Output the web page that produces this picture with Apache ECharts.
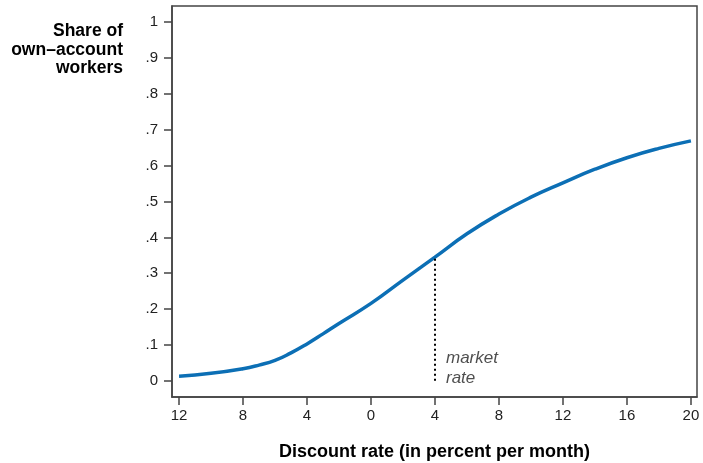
<!DOCTYPE html>
<html>
<head>
<meta charset="utf-8">
<script src="https://cdn.jsdelivr.net/npm/echarts@6/dist/echarts.min.js"></script>
<style>
  html, body { margin: 0; padding: 0; background: #fff; }
  #chart { width: 703px; height: 463px; }
</style>
</head>
<body>
<div id="chart"></div>
<script>
// discount rate (percent per month), negative side shown as absolute values
var rates  = [-12, -10, -8, -7, -6, -5, -4, -3, -2, 0, 2, 4, 6, 8, 10, 12, 14, 16, 18, 20];
var shares = [0.013, 0.021, 0.034, 0.044, 0.057, 0.078, 0.103, 0.131, 0.160, 0.216, 0.281, 0.345, 0.410, 0.465, 0.512, 0.552, 0.590, 0.622, 0.648, 0.669];
var xTicks = [-12, -8, -4, 0, 4, 8, 12, 16, 20];
var yTicks = [0, 0.1, 0.2, 0.3, 0.4, 0.5, 0.6, 0.7, 0.8, 0.9, 1];
var marketRate = 4;

var font = "Liberation Sans, Arial, Helvetica, sans-serif";
var ink = '#222';
var axisColor = '#444';

var data = rates.map(function (r, i) { return [r, shares[i]]; });
var marketShare = shares[rates.indexOf(marketRate)];

var chart = echarts.init(document.getElementById('chart'));
chart.setOption({
    animation: false,
    grid: {
        left: 172, right: 6, top: 6, bottom: 66,
        outerBoundsMode: 'none',
        show: true, borderColor: axisColor, borderWidth: 1.5
    },
    graphic: [{
        type: 'text',
        x: 123, y: 22,
        style: {
            text: 'Share of\nown\u2013account\nworkers',
            align: 'right',
            font: 'bold 17.5px ' + font,
            lineHeight: 18.5,
            fill: '#000'
        }
    }],
    xAxis: {
        type: 'value',
        min: -12.44, max: 20.38,
        name: 'Discount rate (in percent per month)',
        nameLocation: 'middle',
        nameGap: 46,
        nameTextStyle: { fontFamily: font, fontWeight: 'bold', fontSize: 18, color: '#000' },
        splitLine: { show: false },
        axisLine: { show: true, onZero: false, lineStyle: { color: axisColor, width: 1.5 } },
        axisTick: { show: true, length: 8, customValues: xTicks, lineStyle: { color: axisColor, width: 1.5 } },
        axisLabel: {
            customValues: xTicks, margin: 11,
            fontFamily: font, fontSize: 15, color: ink,
            formatter: function (v) { return String(Math.abs(v)); }
        }
    },
    yAxis: {
        type: 'value',
        min: -0.045, max: 1.045,
        splitLine: { show: false },
        axisLine: { show: true, onZero: false, lineStyle: { color: axisColor, width: 1.5 } },
        axisTick: { show: true, length: 8, customValues: yTicks, lineStyle: { color: axisColor, width: 1.5 } },
        axisLabel: {
            customValues: yTicks, margin: 14,
            fontFamily: font, fontSize: 15, color: ink,
            formatter: function (v) {
                if (v === 0) return '0';
                if (v >= 1) return '1';
                return '.' + Math.round(v * 10);
            }
        }
    },
    series: [{
        type: 'line',
        data: data,
        smooth: true,
        showSymbol: false,
        lineStyle: { color: '#0c6fb5', width: 3.5 },
        markLine: {
            silent: true,
            symbol: 'none',
            label: { show: false },
            lineStyle: { color: '#000', type: [2, 3], width: 2 },
            data: [[{ coord: [marketRate, 0] }, { coord: [marketRate, marketShare] }]]
        },
        z: 3
    }, {
        type: 'scatter',
        data: [[marketRate, 0.036]],
        symbolSize: 0,
        silent: true,
        label: {
            show: true,
            position: 'right',
            distance: 11,
            formatter: 'market\nrate',
            fontFamily: font, fontStyle: 'italic', fontSize: 17,
            lineHeight: 20, color: ink, align: 'left'
        }
    }]
});
</script>
</body>
</html>
